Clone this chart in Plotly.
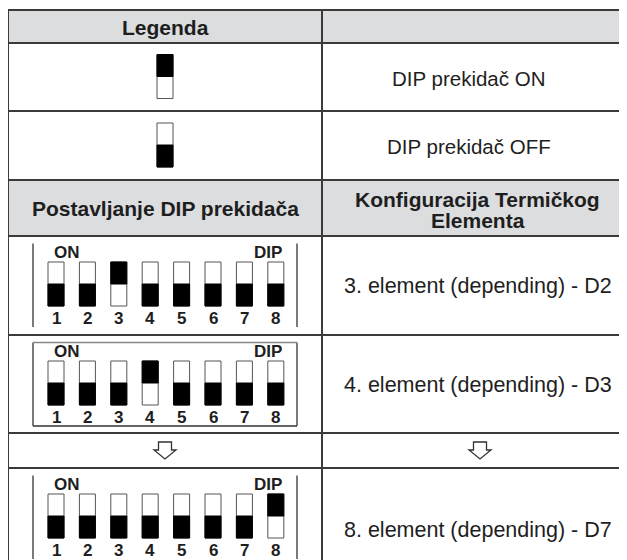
import plotly.graph_objects as go

# ---------------- data ----------------
header_legend = ["Legenda", ""]
legend_labels = ["DIP prekidač ON", "DIP prekidač OFF"]
legend_states = [1, 0]  # 1 = ON (upper half dark), 0 = OFF

header_config = ["Postavljanje DIP prekidača", ["Konfiguracija Termičkog", "Elementa"]]
config_labels = ["3. element (depending) - D2", "4. element (depending) - D3", None,
                 "8. element (depending) - D7"]
config_switches = [
    [0, 0, 1, 0, 0, 0, 0, 0],
    [0, 0, 0, 1, 0, 0, 0, 0],
    None,  # continuation arrow row
    [0, 0, 0, 0, 0, 0, 0, 1],
]
switch_numbers = ["1", "2", "3", "4", "5", "6", "7", "8"]
box_on_label = "ON"
box_dip_label = "DIP"

# ---------------- layout constants ----------------
W, H = 627, 560
PAGE_OFF = 8  # browser body margin
X_LEFT, X_MID, X_RIGHT = 8, 322, 660
ROW_EDGES = [10, 43, 111, 180, 236, 335, 433, 468, 590]
GRAY = "#dcdddf"
LINE = "#3a3a3a"
TXT = "#1e1e1e"
FONT = "Liberation Sans, Arial, sans-serif"
BOX_STYLE = ["sides", "full", None, "sides"]

SW_W, SW_H = 16, 44
SW_X0, SW_PITCH = 56, 31.4

shapes = []
ann = []


def rect(x0, y0, x1, y1, fill, lc=None, lw=0):
    shapes.append(dict(type="rect", xref="x", yref="y", x0=x0, y0=y0, x1=x1, y1=y1,
                       fillcolor=fill, line=dict(color=lc or fill, width=lw), layer="above"))


def line(x0, y0, x1, y1, color=LINE, width=2):
    shapes.append(dict(type="line", xref="x", yref="y", x0=x0, y0=y0, x1=x1, y1=y1,
                       line=dict(color=color, width=width), layer="above"))


def text(x, y, s, size=20.5, bold=False, xanchor="center", color=TXT):
    ann.append(dict(x=x, y=y, xref="x", yref="y", text=f"<b>{s}</b>" if bold else s,
                    showarrow=False, xanchor=xanchor, yanchor="middle",
                    font=dict(family=FONT, size=size, color=color)))


def switch(cx, ytop, state):
    x0, x1 = cx - SW_W / 2, cx + SW_W / 2
    rect(x0, ytop, x1, ytop + SW_H, "white", "#555555", 1)
    half = SW_H / 2
    if state:
        rect(x0, ytop, x1, ytop + half, "black", "black", 1)
    else:
        rect(x0, ytop + half, x1, ytop + SW_H, "black", "black", 1)


def arrow(cx, cy):
    path = (f"M {cx-6.5},{cy-8} L {cx+6.5},{cy-8} L {cx+6.5},{cy} L {cx+11},{cy} "
            f"L {cx},{cy+9} L {cx-11},{cy} L {cx-6.5},{cy} Z")
    shapes.append(dict(type="path", xref="x", yref="y", path=path, fillcolor="white",
                       line=dict(color="#333333", width=1.3), layer="above"))


# header backgrounds
rect(X_LEFT, ROW_EDGES[0], X_RIGHT, ROW_EDGES[1], GRAY)
rect(X_LEFT, ROW_EDGES[3], X_RIGHT, ROW_EDGES[4], GRAY)

cl = (X_LEFT + X_MID) / 2
cr = (X_MID + W) / 2

# header texts
text(cl, (ROW_EDGES[0] + ROW_EDGES[1]) / 2 + 0.5, header_legend[0], size=21, bold=True)
text(cl, (ROW_EDGES[3] + ROW_EDGES[4]) / 2 + 0.5, header_config[0], size=21, bold=True)
text(cr + 3, 199, header_config[1][0], size=21, bold=True)
text(cr + 3, 220, header_config[1][1], size=21, bold=True)

# legend rows
for i, (lab, st) in enumerate(zip(legend_labels, legend_states)):
    y0, y1 = ROW_EDGES[1 + i], ROW_EDGES[2 + i]
    cy = (y0 + y1) / 2
    switch(cl, cy - SW_H / 2 - 0.5, st)
    text(cr - 6, cy + 1, lab, size=20.5)

# configuration rows
for i, (lab, sw) in enumerate(zip(config_labels, config_switches)):
    y0, y1 = ROW_EDGES[4 + i], ROW_EDGES[5 + i]
    if sw is None:
        cy = (y0 + y1) / 2
        arrow(165, cy - 0.5)
        arrow(480, cy - 0.5)
        continue
    # DIP box
    bx0, bx1 = 33, 297
    by0, by1 = y0 + 7.5, y0 + 91
    line(bx0, by0, bx0, by1, "#333333", 1.3)
    line(bx1, by0, bx1, by1, "#333333", 1.3)
    if BOX_STYLE[i] == "full":
        line(bx0, by0, bx1, by0, "#888888", 1.3)
        line(bx0, by1, bx1, by1, "#333333", 1.3)
    text(52, y0 + 16.5, box_on_label, size=17, bold=True, xanchor="left")
    text(284, y0 + 16.5, box_dip_label, size=17, bold=True, xanchor="right")
    for k, st in enumerate(sw):
        cx = SW_X0 + k * SW_PITCH
        switch(cx, y0 + 26, st)
        text(cx, y0 + 82, switch_numbers[k], size=17, bold=True)
    text(cr + 3, (y0 + y1) / 2 + 0.5, lab, size=21.5)

# grid lines
for y in ROW_EDGES[:-1]:
    line(X_LEFT, y, X_RIGHT, y, LINE, 2)
line(X_LEFT, ROW_EDGES[0], X_LEFT, ROW_EDGES[-1], LINE, 2)
line(X_MID, ROW_EDGES[0], X_MID, ROW_EDGES[-1], LINE, 2)

fig = go.Figure()
fig.add_trace(go.Scatter(x=[PAGE_OFF, W + PAGE_OFF], y=[PAGE_OFF, H + PAGE_OFF], mode="markers",
                         marker=dict(opacity=0), hoverinfo="skip", showlegend=False))
fig.update_layout(
    width=W, height=H, margin=dict(l=0, r=0, t=0, b=0),
    paper_bgcolor="white", plot_bgcolor="white",
    xaxis=dict(range=[PAGE_OFF, W + PAGE_OFF], visible=False, fixedrange=True),
    yaxis=dict(range=[H + PAGE_OFF, PAGE_OFF], visible=False, fixedrange=True),
    shapes=shapes, annotations=ann, showlegend=False,
)
fig.write_html("out.html")
